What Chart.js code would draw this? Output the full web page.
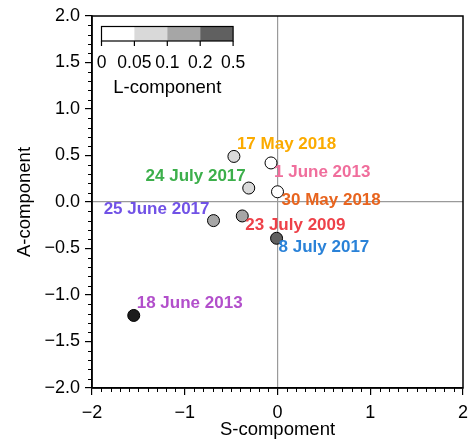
<!DOCTYPE html>
<html><head><meta charset="utf-8">
<script src="https://cdn.jsdelivr.net/npm/chart.js@4.4.0/dist/chart.umd.min.js"></script>
<style>html,body{margin:0;padding:0;background:#fff;overflow:hidden;}#wrap{width:468px;height:445px;overflow:hidden;}</style>
</head><body><div id="wrap"><canvas id="c" width="470" height="445"></canvas></div>
<script>
const dates = ['17 May 2018','1 June 2013','24 July 2017','30 May 2018','25 June 2017','23 July 2009','8 July 2017','18 June 2013'];
const sValues = [-0.47,-0.07,-0.31,0.00,-0.69,-0.38,-0.01,-1.55];
const aValues = [0.49,0.42,0.15,0.11,-0.20,-0.15,-0.39,-1.22];
const lValues = [0.07,0.02,0.07,0.02,0.15,0.15,0.30,0.70];
const labelColors = ['#fbab00','#f06e9c','#3caf4b','#e8641e','#7152e6','#ee4149','#2a82d8','#b24fcb'];
const lBounds = [0,0.05,0.1,0.2,0.5];
const lTickLabels = ['0','0.05','0.1','0.2','0.5'];
const lColors = ['#ffffff','#d9d9d9','#a6a6a6','#606060'];
const xTickValues = [-2,-1,0,1,2];
const yTickValues = [-2,-1.5,-1,-0.5,0,0.5,1,1.5,2];

// label placement (style, not data)
const labelDx = [3,3,-3,4,-4,3,2,3];
const labelDy = [-12,9,-12,9,-11,9,9,-12];
const labelAlign = ['left','left','right','left','right','left','left','left'];

function lColor(v){
  for(let i=0;i<lColors.length;i++){ if(v<lBounds[i+1]) return lColors[i]; }
  return '#1c1c1c';
}
const minus = s => s.replace('-','\u2212');

const framePlugin = {
  id:'frame',
  afterDraw(chart){
    const ctx = chart.ctx, a = chart.chartArea;
    const xs = chart.scales.x, ys = chart.scales.y;
    ctx.save();
    // minor ticks
    ctx.strokeStyle='#000'; ctx.lineWidth=1;
    ctx.beginPath();
    for(let i=-20;i<=20;i++){
      if(i%10===0) continue;
      const px = Math.round(xs.getPixelForValue(i/10))+0.5;
      ctx.moveTo(px,a.bottom); ctx.lineTo(px,a.bottom+4);
    }
    for(let i=-20;i<=20;i++){
      if(i%5===0) continue;
      const py = Math.round(ys.getPixelForValue(i/10))+0.5;
      ctx.moveTo(a.left,py); ctx.lineTo(a.left-4,py);
    }
    ctx.stroke();
    // frame
    ctx.lineWidth=1.5;
    ctx.strokeRect(a.left,a.top,a.right-a.left,a.bottom-a.top);
    // colour bar legend
    const bx = a.left+9.5, by = a.top+10.5, bw = 131.6, bh = 14.5;
    const seg = bw/lColors.length;
    lColors.forEach((c,i)=>{ ctx.fillStyle=c; ctx.fillRect(bx+i*seg,by,seg,bh); });
    ctx.lineWidth=1.2; ctx.strokeStyle='#000';
    ctx.strokeRect(bx,by,bw,bh);
    ctx.beginPath();
    lBounds.forEach((b,i)=>{ const px=bx+i*seg; ctx.moveTo(px,by+bh); ctx.lineTo(px,by+bh+5); });
    ctx.stroke();
    ctx.fillStyle='#000'; ctx.textAlign='center'; ctx.textBaseline='middle';
    ctx.font='17.5px "Liberation Sans", Arial, sans-serif';
    lTickLabels.forEach((t,i)=>{ ctx.fillText(t,bx+i*seg,by+bh+22.5); });
    ctx.font='18.5px "Liberation Sans", Arial, sans-serif';
    ctx.fillText('L-component',bx+bw/2,by+bh+46.5);
    ctx.restore();
  },
  afterDatasetsDraw(chart){
    const ctx = chart.ctx;
    const meta = chart.getDatasetMeta(0);
    ctx.save();
    ctx.font='bold 17px "Liberation Sans", Arial, sans-serif';
    ctx.textBaseline='middle';
    meta.data.forEach((pt,i)=>{
      ctx.fillStyle=labelColors[i];
      ctx.textAlign=labelAlign[i];
      ctx.fillText(dates[i], pt.x+labelDx[i], pt.y+labelDy[i]);
    });
    ctx.restore();
  }
};

const tickFont = {family:'"Liberation Sans", Arial, sans-serif', size:18};
new Chart(document.getElementById('c'),{
  type:'scatter',
  data:{datasets:[{
    data: sValues.map((s,i)=>({x:s,y:aValues[i]})),
    pointRadius:6, pointHoverRadius:6,
    pointBackgroundColor: lValues.map(lColor),
    pointBorderColor:'#000', pointBorderWidth:1
  }]},
  options:{
    responsive:false, animation:false,
    devicePixelRatio:1,
    layout:{padding:{top:16,right:0,left:0,bottom:0}},
    plugins:{legend:{display:false},tooltip:{enabled:false}},
    scales:{
      x:{
        type:'linear', min:-2, max:2,
        afterBuildTicks(s){ s.ticks = xTickValues.map(v=>({value:v})); },
        afterFit(s){ s.height = 57; s.paddingLeft = 0; s.paddingRight = 0; },
        ticks:{font:tickFont,color:'#000',padding:7,maxRotation:0,
          callback:v=>minus(String(v))},
        grid:{color:c=>(c.tick&&c.tick.value===0)?'#9a9a9a':'rgba(0,0,0,0)',
          lineWidth:1.2, tickColor:'#000', tickLength:7, drawTicks:true},
        border:{display:true,color:'#000',width:1.5},
        title:{display:true,text:'S-compoment',font:{family:'"Liberation Sans", Arial, sans-serif',size:18.5},color:'#000',padding:{top:0,bottom:4}}
      },
      y:{
        type:'linear', min:-2, max:2,
        afterBuildTicks(s){ s.ticks = yTickValues.map(v=>({value:v})); },
        afterFit(s){ s.width = 92; s.paddingTop = 0; s.paddingBottom = 0; },
        ticks:{font:tickFont,color:'#000',padding:5,
          callback:v=>minus(Number(v).toFixed(1))},
        grid:{color:c=>(c.tick&&c.tick.value===0)?'#9a9a9a':'rgba(0,0,0,0)',
          lineWidth:1.2, tickColor:'#000', tickLength:7, drawTicks:true},
        border:{display:true,color:'#000',width:1.5},
        title:{display:true,text:'A-component',font:{family:'"Liberation Sans", Arial, sans-serif',size:18.5},color:'#000',padding:{top:14,bottom:0}}
      }
    }
  },
  plugins:[framePlugin]
});
</script></body></html>
